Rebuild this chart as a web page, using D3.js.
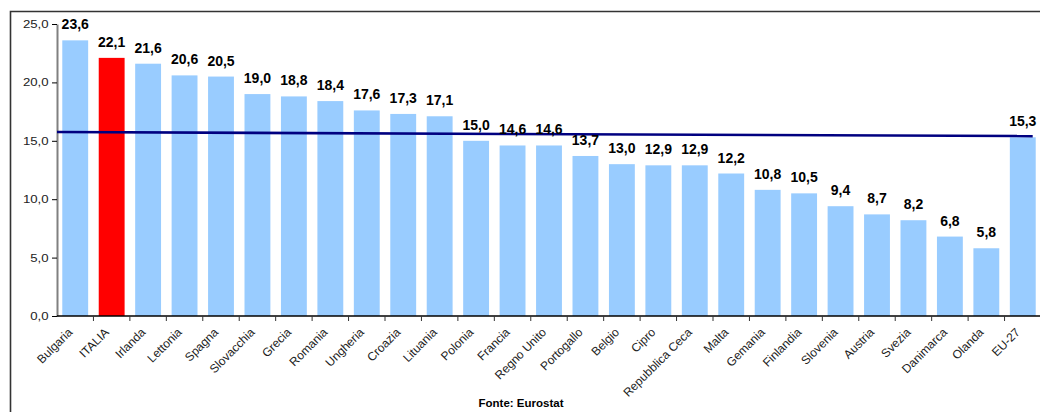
<!DOCTYPE html>
<html><head><meta charset="utf-8">
<script src="https://cdn.jsdelivr.net/npm/d3@7"></script>
<style>body{margin:0;background:#fff}svg{display:block;font-family:Arial,"Liberation Sans",sans-serif}</style>
</head><body><svg id="c" width="1040" height="412"></svg>
<script>
const categories = ["Bulgaria","ITALIA","Irlanda","Lettonia","Spagna","Slovacchia","Grecia","Romania","Ungheria","Croazia","Lituania","Polonia","Francia","Regno Unito","Portogallo","Belgio","Cipro","Repubblica Ceca","Malta","Gemania","Finlandia","Slovenia","Austria","Svezia","Danimarca","Olanda","EU-27"];
const values = [23.6,22.1,21.6,20.6,20.5,19.0,18.8,18.4,17.6,17.3,17.1,15.0,14.6,14.6,13.7,13.0,12.9,12.9,12.2,10.8,10.5,9.4,8.7,8.2,6.8,5.8,15.3];
const highlight = ["ITALIA"];
const lineValues = [15.75, 15.4];
const yTicks = [0,5,10,15,20,25];
const source = "Fonte: Eurostat";

const svg = d3.select("#c");
const fmt = v => d3.format(".1f")(v).replace(".", ",");
const x = d3.scaleBand().domain(categories).range([57, 1041]).paddingInner(0.29).paddingOuter(0.145);
const y = d3.scaleLinear().domain([0,25]).range([316, 24]);

// frame
svg.append("path").attr("d","M10.5,412 V11.5 H1040").attr("fill","none").attr("stroke","#333").attr("stroke-width",1.6);

// bars
svg.append("g").selectAll("rect").data(categories).join("rect")
  .attr("x", d => x(d)).attr("width", x.bandwidth())
  .attr("y", (d,i) => y(values[i])).attr("height", (d,i) => y(0) - y(values[i]))
  .attr("fill", d => highlight.includes(d) ? "#FF0000" : "#99CCFF");

// y axis
const ya = svg.append("g").attr("transform","translate(57,0)")
  .call(d3.axisLeft(y).tickValues(yTicks).tickFormat(fmt).tickSize(5).tickSizeOuter(0));
ya.select(".domain").attr("stroke","#808080").attr("stroke-width",2);
ya.selectAll(".tick line").attr("stroke","#000");
ya.selectAll(".tick text").attr("font-size",11).attr("fill","#222").attr("x",-7)
  .attr("transform","scale(1.2,1)").attr("font-family","Arial, Liberation Sans, sans-serif");

// x axis
const xa = svg.append("g").attr("transform","translate(0,316)");
xa.append("line").attr("x1",57).attr("x2",1040).attr("stroke","#000").attr("stroke-width",1.5);
xa.selectAll("line.t").data(categories).join("line").attr("class","t")
  .attr("x1",(d)=>x(d)-x.step()*x.paddingInner()/2 + x.step()).attr("x2",(d)=>x(d)-x.step()*x.paddingInner()/2 + x.step())
  .attr("y1",0).attr("y2",5).attr("stroke","#333");
xa.selectAll("text").data(categories).join("text")
  .attr("transform", d => `translate(${x(d)+x.bandwidth()/2-2},17) rotate(-45)`)
  .attr("text-anchor","end").attr("font-size",12).attr("fill","#222").text(d=>d);

// line
const lx = [57, x(categories[categories.length-1]) + x.bandwidth() - 3];
svg.append("path").datum(lineValues)
  .attr("d", d3.line().x((d,i)=>lx[i]).y(d=>y(d)))
  .attr("stroke","#000080").attr("stroke-width",2.6).attr("fill","none");

// value labels
svg.append("g").selectAll("text").data(categories).join("text")
  .attr("x", d => x(d)+x.bandwidth()/2).attr("y",(d,i)=>y(values[i])-11)
  .attr("text-anchor","middle").attr("font-weight","bold").attr("font-size",14).attr("fill","#000")
  .text((d,i)=>fmt(values[i]));

svg.append("text").attr("x",521).attr("y",407).attr("text-anchor","middle")
  .attr("font-weight","bold").attr("font-size",11.5).attr("fill","#000").text(source);
</script></body></html>
